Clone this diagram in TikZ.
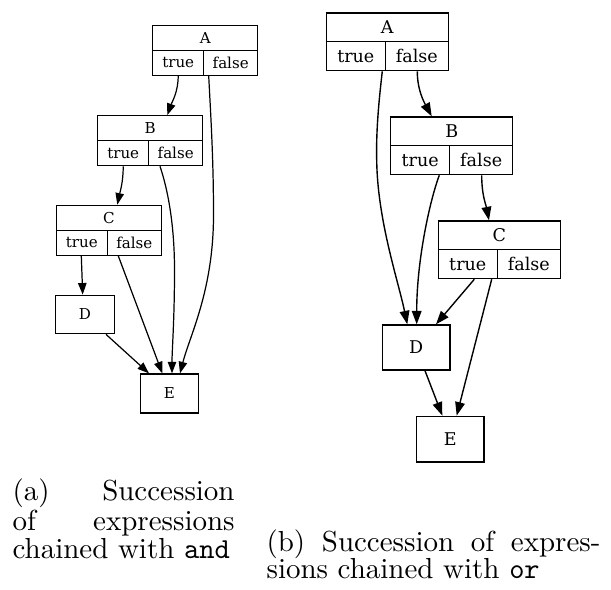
\documentclass[tikz,border=0pt]{standalone}
\usepackage{fontspec}
\usepackage{tikz}
\usetikzlibrary{arrows.meta,calc}
\newfontfamily\dotfont{DejaVu Serif}
\newcommand{\pxu}{0.345pt}
\newcommand{\lfont}{\dotfont\fontsize{5.2}{6}\selectfont}
\newcommand{\rfont}{\dotfont\fontsize{6.05}{7}\selectfont}
\tikzset{
  lpart/.style 2 args={draw, line width=0.42pt, font=\lfont, inner sep=0pt,
    minimum width=#1*\pxu, minimum height=#2*\pxu},
  rpart/.style 2 args={draw, line width=0.48pt, font=\rfont, inner sep=0pt,
    minimum width=#1*\pxu, minimum height=#2*\pxu},
  ledge/.style={-{Triangle[length=4pt,width=2.9pt]}, line width=0.42pt},
  redge/.style={-{Triangle[length=4.65pt,width=3.35pt]}, line width=0.48pt},
  subcap/.style={inner sep=0pt, anchor=north west, align=left,
    font=\fontsize{10}{9.5}\selectfont}
}

\begin{document}
\begin{tikzpicture}[x=0.345pt, y=-0.345pt]
  \useasboundingbox (0,0) rectangle (611,590);

  % (a) chained with and
  \node[lpart={105}{25}] (lA) at (205.2,37.8) {A};
  \node[lpart={51}{25}] (lAt) at (178.2,62.8) {true};
  \node[lpart={54}{25}] (lAf) at (230.7,62.8) {false};
  \node[lpart={105}{25}] (lB) at (150.2,128.2) {B};
  \node[lpart={51}{25}] (lBt) at (123.2,153.2) {true};
  \node[lpart={54}{25}] (lBf) at (175.7,153.2) {false};
  \node[lpart={105}{25}] (lC) at (108.8,217.8) {C};
  \node[lpart={51}{25}] (lCt) at (81.8,242.8) {true};
  \node[lpart={54}{25}] (lCf) at (134.3,242.8) {false};
  \node[lpart={58.5}{38.5}] (lD) at (85,314.5) {D};
  \node[lpart={58.5}{39}] (lE) at (169.5,393.5) {E};

  \draw[ledge] (lAt.south) .. controls (178.2,92) and (172,102) .. ($(lB.north)+(17.1,0)$);
  \draw[ledge] ($(lAf.south)+(-22,0)$) .. controls (211,120) and (213.5,160) .. (213.5,215)
    .. controls (213.5,290) and (190,335) .. ($(lE.north)+(10.5,0)$);
  \draw[ledge] (lBt.south) .. controls (123.3,182) and (120,192) .. ($(lC.north)+(8.5,0)$);
  \draw[ledge] ($(lBf.south)+(-15.7,0)$) .. controls (168,190) and (174.5,225) .. (174.5,270)
    .. controls (174.5,320) and (172,350) .. ($(lE.north)+(2.5,0)$);
  \draw[ledge] ($(lCt.south)+(-0.5,0)$) -- ($(lD.north)+(-2.3,0)$);
  \draw[ledge] ($(lCf.south)+(-16,0)$) -- ($(lE.north)+(-7.2,0)$);
  \draw[ledge] ($(lD.south)+(21,0)$) -- ($(lE.north)+(-20.5,0)$);

  % (b) chained with or
  \node[rpart={122}{28.8}] (rA) at (387.3,27.4) {A};
  \node[rpart={59}{28.8}] (rAt) at (355.8,56.2) {true};
  \node[rpart={63}{28.8}] (rAf) at (416.8,56.2) {false};
  \node[rpart={122}{28.8}] (rB) at (451.7,131.4) {B};
  \node[rpart={59}{28.8}] (rBt) at (420.2,160.2) {true};
  \node[rpart={63}{28.8}] (rBf) at (481.2,160.2) {false};
  \node[rpart={122}{28.8}] (rC) at (499.3,235.4) {C};
  \node[rpart={59}{28.8}] (rCt) at (467.8,264.2) {true};
  \node[rpart={63}{28.8}] (rCf) at (528.8,264.2) {false};
  \node[rpart={67.7}{45}] (rD) at (416.15,347.5) {D};
  \node[rpart={67.7}{45.7}] (rE) at (450.15,439.15) {E};

  \draw[redge] ($(rAt.south)+(26.5,0)$) .. controls (379,100) and (376,130) .. (376.7,160)
    .. controls (377.4,220) and (398,280) .. ($(rD.north)+(-8.85,0)$);
  \draw[redge] ($(rAf.south)+(0.5,0)$) .. controls (417.3,90) and (424,102) .. ($(rB.north)+(-20,0)$);
  \draw[redge] ($(rBt.south)+(19.1,0)$) .. controls (430,200) and (416.7,260) .. ($(rD.north)+(0.55,0)$);
  \draw[redge] ($(rBf.south)+(0.5,0)$) .. controls (481.7,195) and (486,205) .. ($(rC.north)+(-10.3,0)$);
  \draw[redge] ($(rCt.south)+(6.5,0)$) -- ($(rD.north)+(19.85,0)$);
  \draw[redge] ($(rCf.south)+(-37.1,0)$) -- ($(rE.north)+(6.55,0)$);
  \draw[redge] ($(rD.south)+(8.85,0)$) -- ($(rE.north)+(-7.85,0)$);

  % captions
  \node[subcap, text width=76.6pt] (capa) at (12,478)
    {(a)\hfill Succession\\of\hfill expressions\\chained with \texttt{and}};
  \node[subcap, text width=115.2pt] (capb) at (266,529)
    {(b)\hfill Succession\hfill of\hfill expres-\\sions chained with \texttt{or}};
\end{tikzpicture}
\end{document}
